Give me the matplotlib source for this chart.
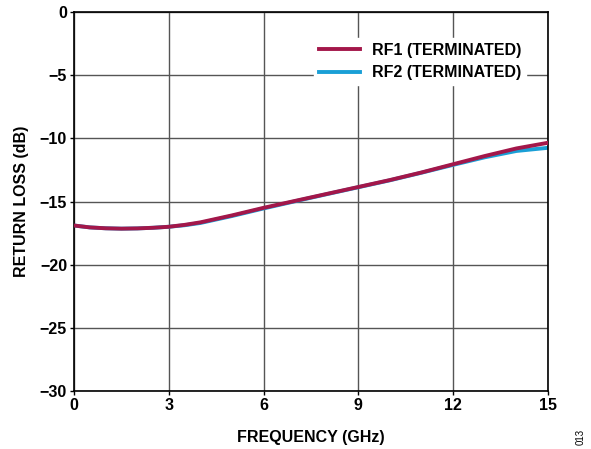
import matplotlib
matplotlib.use("Agg")
import matplotlib.pyplot as plt

plt.rcParams['font.family'] = ['Liberation Sans', 'DejaVu Sans']

# Frequency points (GHz)
freq = [0, 0.5, 1, 1.5, 2, 2.5, 3, 3.5, 4, 5, 6, 7, 8, 9, 10, 11, 12, 13, 14, 15]
# Return loss (dB)
rf1 = [-16.9, -17.05, -17.12, -17.15, -17.13, -17.08, -17.0, -16.85, -16.65,
       -16.1, -15.5, -14.95, -14.4, -13.85, -13.3, -12.7, -12.05, -11.4, -10.8, -10.35]
rf2 = [-16.9, -17.05, -17.12, -17.15, -17.13, -17.08, -17.0, -16.88, -16.7,
       -16.15, -15.55, -14.98, -14.42, -13.87, -13.32, -12.72, -12.1, -11.5, -11.0, -10.75]
labels = ['RF1 (TERMINATED)', 'RF2 (TERMINATED)']
xticks = [0, 3, 6, 9, 12, 15]
yticks = [0, -5, -10, -15, -20, -25, -30]

fig = plt.figure(figsize=(5.91, 4.49), dpi=100)
ax = fig.add_axes([74 / 591, 1 - 391 / 449, 474 / 591, 379 / 449])

l1, = ax.plot(freq, rf1, color='#a3174a', lw=2.8, zorder=3)
l2, = ax.plot(freq, rf2, color='#1a9fd6', lw=2.8, zorder=2)

ax.set_xlim(0, 15)
ax.set_ylim(-30, 0)
ax.set_xticks(xticks)
ax.set_yticks(yticks)
ax.set_yticklabels(['0', '\u22125', '\u221210', '\u221215', '\u221220', '\u221225', '\u221230'])
ax.grid(True, color='#555555', lw=1.0)
ax.set_axisbelow(True)
for s in ax.spines.values():
    s.set_color('black')
    s.set_linewidth(1.2)
ax.tick_params(length=3, width=1, labelsize=11.5, pad=2)
for t in ax.get_xticklabels() + ax.get_yticklabels():
    t.set_fontweight('bold')

ax.set_xlabel('FREQUENCY (GHz)', fontsize=11.5, fontweight='bold', labelpad=12)
ax.set_ylabel('RETURN LOSS (dB)', fontsize=11.5, fontweight='bold', labelpad=8)

leg = ax.legend([l1, l2], labels, loc='upper right', bbox_to_anchor=(0.97, 0.952),
                frameon=True, fancybox=False, edgecolor='white', framealpha=1,
                prop={'weight': 'bold', 'size': 11.5}, handlelength=2.6,
                borderpad=0.3, labelspacing=0.45, handletextpad=0.7)

fig.text(581 / 591, 1 - 437 / 449, '013', rotation=90, fontsize=7,
         ha='center', va='center')

fig.savefig('out.png', dpi=100)
